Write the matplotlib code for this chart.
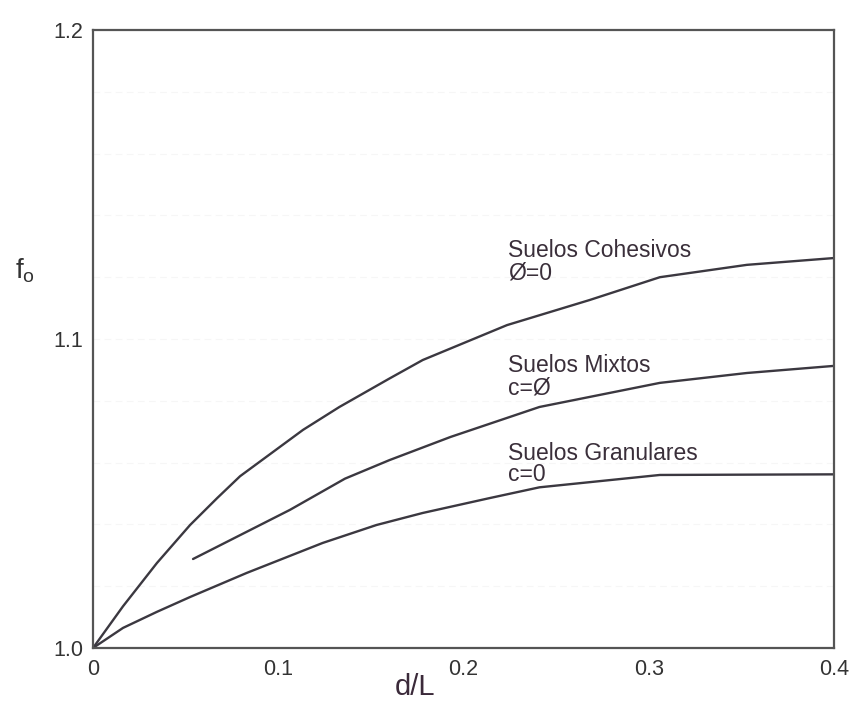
import matplotlib
matplotlib.use("Agg")
import matplotlib.pyplot as plt
import numpy as np

plt.rcParams['font.family'] = ['Liberation Sans', 'DejaVu Sans']
plt.rcParams['mathtext.default'] = 'regular'

# Data
coh_x = [0, 0.0162, 0.0345, 0.0524, 0.067, 0.0794, 0.1134, 0.133, 0.160, 0.178, 0.2235, 0.268, 0.306, 0.326, 0.353, 0.4]
coh_y = [1.0, 1.0135, 1.0275, 1.0398, 1.0485, 1.0556, 1.0706, 1.078, 1.0872, 1.0932, 1.1045, 1.1126, 1.120, 1.1217, 1.124, 1.1262]

mix_x = [0.054, 0.1063, 0.136, 0.160, 0.193, 0.241, 0.306, 0.353, 0.4]
mix_y = [1.0288, 1.0447, 1.0548, 1.0608, 1.0683, 1.078, 1.0858, 1.089, 1.0913]

gra_x = [0, 0.0162, 0.0345, 0.0524, 0.083, 0.124, 0.153, 0.178, 0.214, 0.241, 0.306, 0.4]
gra_y = [1.0, 1.0065, 1.0117, 1.0165, 1.0243, 1.034, 1.0398, 1.0437, 1.0485, 1.052, 1.056, 1.0562]

x_ticks = [0, 0.1, 0.2, 0.3, 0.4]
x_tick_labels = ['0', '0.1', '0.2', '0.3', '0.4']
y_ticks = [1.0, 1.1, 1.2]
y_tick_labels = ['1.0', '1.1', '1.2']

label_x = 0.224
labels_line1 = ['Suelos Cohesivos', 'Suelos Mixtos', 'Suelos Granulares']
labels_line2 = ['Ø=0', 'c=Ø', 'c=0']
label_y1 = [1.1264, 1.0893, 1.0610]
label_y2 = [1.1194, 1.0822, 1.0542]

fig = plt.figure(figsize=(8.53, 7.09), dpi=100)
ax = fig.add_axes([93/853, 61/709, 741/853, 618/709])

line_color = '#3b3840'
for xs, ys in [(coh_x, coh_y), (mix_x, mix_y), (gra_x, gra_y)]:
    ax.plot(xs, ys, color=line_color, lw=1.7, solid_capstyle='round', solid_joinstyle='round')

# faint background grid
for gy in np.arange(1.02, 1.2, 0.02):
    ax.axhline(gy, color='#f6f6f6', lw=0.8, ls=(0, (6, 4)), zorder=0)

for t1, t2, y1, y2 in zip(labels_line1, labels_line2, label_y1, label_y2):
    ax.text(label_x, y1, t1, fontsize=16.5, color='#3a2f3a', va='baseline', ha='left')
    ax.text(label_x, y2, t2, fontsize=16.5, color='#3a2f3a', va='baseline', ha='left')

ax.set_xlim(0, 0.4)
ax.set_ylim(1.0, 1.2)
ax.set_xticks(x_ticks)
ax.set_xticklabels(x_tick_labels)
ax.set_yticks(y_ticks)
ax.set_yticklabels(y_tick_labels)
ax.tick_params(length=0, labelsize=15.5, labelcolor='#333333')
ax.tick_params(axis='x', pad=8)
ax.tick_params(axis='y', pad=7)

for sp in ax.spines.values():
    sp.set_color('#555555')
    sp.set_linewidth(1.6)

ax.set_xlabel('d/L', fontsize=21, color='#3b2a3a')
ax.xaxis.set_label_coords((415 - 93) / 741, -0.040)
ax.set_ylabel('f$_o$', fontsize=20, color='#333333', rotation=0, va='center', ha='center')
ax.yaxis.set_label_coords(-0.092, 0.61)

fig.savefig('out.png', dpi=100)
